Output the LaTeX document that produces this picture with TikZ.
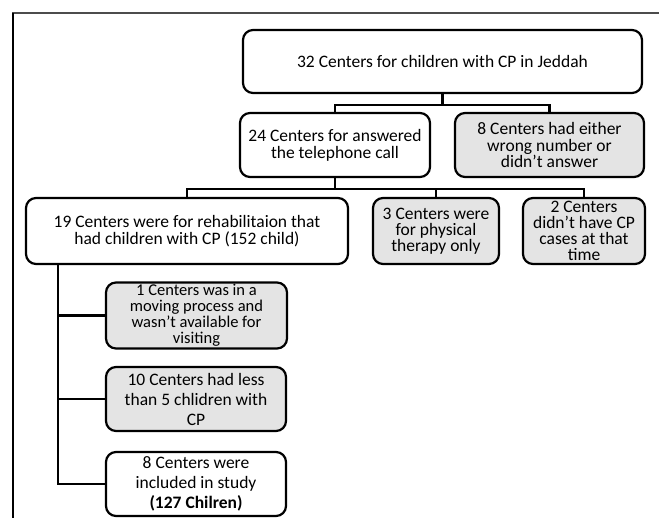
\documentclass[tikz,border=0pt]{standalone}
\usepackage{fontspec}
\setmainfont{Carlito}
\usetikzlibrary{calc}
\definecolor{boxgray}{HTML}{E4E4E4}
\tikzset{
  x=1pt, y=-1pt,
  box/.style={draw=black, line width=2.2pt, rounded corners=10pt, align=center,
    inner sep=0pt, font=\fontsize{17.5}{16.7}\selectfont},
  wbox/.style={box, fill=white},
  gbox/.style={box, fill=boxgray},
  conn/.style={draw=black, line width=2.2pt},
}
\begin{document}
\begin{tikzpicture}
\useasboundingbox (0,0) rectangle (659,518);
% frame
\draw[line width=1.4pt, color=black!70] (12,13) -- (659,13);
\draw[line width=1.4pt, color=black] (13,13) -- (13,518);

\node[wbox, minimum width=399pt, minimum height=63pt] (b1) at (442.5,61.5)
  {32 Centers for children with CP in Jeddah};
\node[wbox, minimum width=190pt, minimum height=64pt] (b2) at (335,145)
  {24 Centers for answered\\the telephone call};
\node[gbox, minimum width=189pt, minimum height=64pt] (b3) at (549.5,145)
  {8 Centers had either\\wrong number or\\didn’t answer};
\node[wbox, minimum width=322pt, minimum height=66pt, font=\fontsize{17.5}{17}\selectfont] (b4) at (187,231)
  {19 Centers were for rehabilitaion that\\had children with CP (152 child)};
\node[gbox, minimum width=126pt, minimum height=66pt, font=\fontsize{17.5}{16}\selectfont] (b5) at (436,231)
  {3 Centers were\\for physical\\therapy only};
\node[gbox, minimum width=122pt, minimum height=66pt, font=\fontsize{17.5}{16}\selectfont] (b6) at (584,231)
  {2 Centers\\didn’t have CP\\cases at that\\time};
\node[gbox, minimum width=181pt, minimum height=66pt, font=\fontsize{16.5}{16}\selectfont] (b7) at (196.5,315.5)
  {1 Centers was in a\\moving process and\\wasn’t available for\\visiting};
\node[gbox, minimum width=180pt, minimum height=64pt, font=\fontsize{17.5}{20}\selectfont] (b8) at (196,399)
  {10 Centers had less\\than 5 chlidren with\\CP};
\node[wbox, minimum width=180pt, minimum height=64pt, font=\fontsize{17.5}{20}\selectfont] (b9) at (196,484)
  {8 Centers were\\included in study\\\textbf{(127 Chilren)}};

% connectors
\path (b1.south) ++(0,11) coordinate (j1);
\draw[conn] (b1.south) -- (j1);
\draw[conn] (j1) -| (b2.north);
\draw[conn] (j1) -| (b3.north);

\path (b2.south) ++(0,11) coordinate (j2);
\draw[conn] (b2.south) -- (j2);
\draw[conn] (j2) -| (b4.north);
\draw[conn] (j2) -| (b5.north);
\draw[conn] (j2) -| (b6.north);

\path (b4.south west) ++(33,0) coordinate (tr);
\draw[conn] (tr) |- (b9.west);
\draw[conn] (tr |- b7.west) -- (b7.west);
\draw[conn] (tr |- b8.west) -- (b8.west);
\end{tikzpicture}
\end{document}
